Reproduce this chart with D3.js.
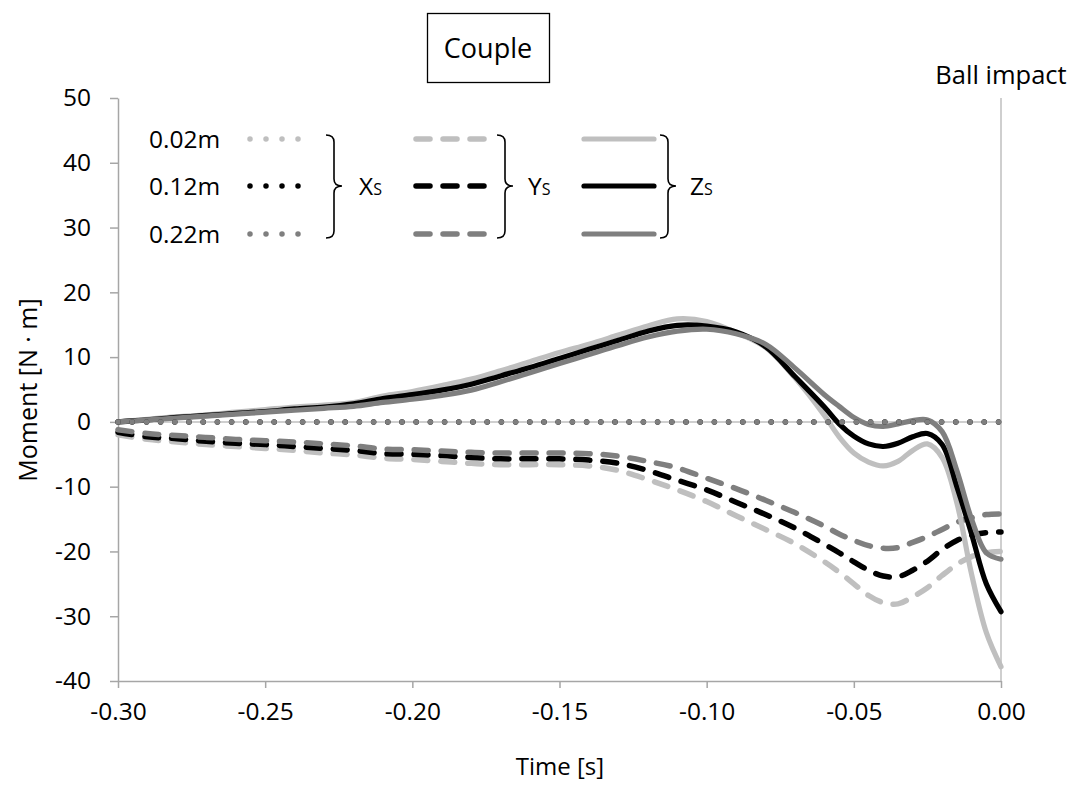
<!DOCTYPE html>
<html>
<head>
<meta charset="utf-8">
<script src="https://cdn.jsdelivr.net/npm/d3@7"></script>
<style>
  html, body { margin: 0; padding: 0; background: #fff; }
  svg { display: block; font-family: "Open Sans", sans-serif; }
</style>
</head>
<body>
<svg id="chart" width="1075" height="785"></svg>
<script>
// ---------------- DATA ----------------
const time = [-0.30,-0.29,-0.28,-0.27,-0.26,-0.25,-0.24,-0.23,-0.22,-0.21,-0.20,-0.19,-0.18,-0.17,-0.16,-0.15,-0.14,-0.13,-0.12,-0.11,-0.10,-0.09,-0.08,-0.07,-0.06,-0.055,-0.05,-0.045,-0.04,-0.035,-0.03,-0.025,-0.02,-0.015,-0.01,-0.005,0.00];

const xs002 = [0,0,0,0,0,0,0,0,0,0,0,0,0,0,0,0,0,0,0,0,0,0,0,0,0,0,0,0,0,0,0,0,0,0,0,0,0];
const xs012 = [0,0,0,0,0,0,0,0,0,0,0,0,0,0,0,0,0,0,0,0,0,0,0,0,0,0,0,0,0,0,0,0,0,0,0,0,0];
const xs022 = [0,0,0,0,0,0,0,0,0,0,0,0,0,0,0,0,0,0,0,0,0,0,0,0,0,0,0,0,0,0,0,0,0,0,0,0,0];

const ys002 = [-2.0,-2.7,-3.1,-3.5,-3.8,-4.1,-4.4,-4.8,-5.1,-5.6,-5.8,-6.1,-6.4,-6.6,-6.6,-6.6,-6.8,-7.5,-8.9,-10.5,-12.3,-14.5,-16.6,-18.8,-21.6,-23.2,-25.0,-26.8,-27.9,-28.1,-27.0,-25.6,-23.7,-22.0,-20.8,-20.2,-20.0];
const ys012 = [-1.6,-2.3,-2.6,-3.0,-3.3,-3.5,-3.8,-4.1,-4.4,-4.9,-5.0,-5.2,-5.5,-5.7,-5.7,-5.7,-5.9,-6.4,-7.5,-9.0,-10.5,-12.4,-14.3,-16.4,-18.9,-20.2,-21.6,-22.9,-23.8,-23.9,-22.9,-21.5,-19.7,-18.3,-17.5,-17.1,-17.0];
const ys022 = [-1.2,-1.8,-2.1,-2.4,-2.7,-2.9,-3.1,-3.4,-3.7,-4.2,-4.3,-4.5,-4.7,-4.8,-4.8,-4.8,-4.9,-5.3,-6.1,-7.1,-8.7,-10.3,-12.1,-14.0,-16.1,-17.3,-18.3,-19.1,-19.5,-19.4,-18.6,-17.7,-16.6,-15.5,-14.8,-14.3,-14.2];

const zs002 = [0.0,0.4,0.8,1.1,1.5,1.9,2.3,2.6,3.0,4.0,4.7,5.6,6.6,7.9,9.3,10.7,12.0,13.4,14.8,15.9,15.5,13.8,11.5,6.8,1.0,-2.3,-4.8,-6.2,-6.8,-6.1,-4.4,-3.4,-5.5,-12.5,-23.5,-32.5,-37.8];
const zs012 = [0.0,0.3,0.7,1.0,1.3,1.6,2.0,2.3,2.8,3.6,4.2,4.9,5.8,7.1,8.4,9.8,11.2,12.6,14.0,14.9,14.8,13.9,11.6,7.0,2.3,-0.3,-2.2,-3.4,-3.8,-3.3,-2.3,-1.8,-3.5,-10.0,-17.3,-25.0,-29.3];
const zs022 = [0.0,0.3,0.6,0.9,1.2,1.5,1.8,2.1,2.4,3.0,3.5,4.1,4.9,6.2,7.6,9.0,10.4,11.8,13.1,14.0,14.3,13.6,12.0,8.3,4.2,2.4,0.7,-0.4,-0.7,-0.3,0.2,0.3,-1.5,-7.5,-15.0,-20.2,-21.2];

const xTicks = [-0.30,-0.25,-0.20,-0.15,-0.10,-0.05,0.00];
const yTicks = [-40,-30,-20,-10,0,10,20,30,40,50];
const sizeLabels = ["0.02m","0.12m","0.22m"];
const axisNames = ["X","Y","Z"];
const titleText = "Couple";
const impactText = "Ball impact";
const xTitle = "Time [s]";
const yTitle = "Moment [N \u00B7 m]";

// ---------------- STYLES ----------------
const shades = ["#bfbfbf", "#000000", "#7f7f7f"];
const styles = {
  X: { dash: "0,14.2", width: 5.5 },
  Y: { dash: "14,13", width: 5.5 },
  Z: { dash: null, width: 5.2 }
};
const legendDash = { X: "0,16", Y: "14,13", Z: null };
const axisColor = "#a6a6a6";

// ---------------- SCALES ----------------
const svg = d3.select("#chart");
svg.append("rect").attr("width", 1075).attr("height", 785).attr("fill", "#fff");

const x = d3.scaleLinear().domain([-0.30, 0]).range([118, 1001]);
const y = d3.scaleLinear().domain([-40, 50]).range([681, 98]);

// ---------------- AXES ----------------
const fmtX = d => (Math.abs(d) < 1e-9 ? "0.00" : d.toFixed(2));
const xAxis = svg.append("g")
  .attr("transform", `translate(0,${y(-40)})`)
  .call(d3.axisBottom(x).tickValues(xTicks).tickFormat(fmtX).tickSize(7).tickSizeOuter(0).tickPadding(15));
const yAxis = svg.append("g")
  .attr("transform", `translate(${x(-0.30)},0)`)
  .call(d3.axisLeft(y).tickValues(yTicks).tickFormat(d => String(d)).tickSize(8).tickSizeOuter(0).tickPadding(19));

[xAxis, yAxis].forEach(g => {
  g.select(".domain").attr("stroke", axisColor).attr("stroke-width", 1.5);
  g.selectAll(".tick line").attr("stroke", axisColor).attr("stroke-width", 1.5);
  g.selectAll(".tick text").attr("fill", "#000").style("font-size", "24.5px").style("font-family", "'Open Sans', sans-serif");
});

// Ball impact vertical line
svg.append("line")
  .attr("x1", x(0)).attr("x2", x(0))
  .attr("y1", y(50)).attr("y2", y(-40))
  .attr("stroke", "#bfbfbf").attr("stroke-width", 1.5);

// thin zero line under dotted X series
svg.append("line")
  .attr("x1", x(-0.30)).attr("x2", x(0))
  .attr("y1", y(0)).attr("y2", y(0))
  .attr("stroke", "#bfbfbf").attr("stroke-width", 1.5);

// ---------------- SERIES ----------------
const line = d3.line()
  .x((d, i) => x(time[i]))
  .y(d => y(d))
  .curve(d3.curveCatmullRom.alpha(0.5));

const seriesGroups = [
  { axis: "Y", data: [ys002, ys012, ys022] },
  { axis: "Z", data: [zs002, zs012, zs022] },
  { axis: "X", data: [xs002, xs012, xs022] }
];

const plot = svg.append("g");
seriesGroups.forEach(grp => {
  grp.data.forEach((vals, k) => {
    const p = plot.append("path")
      .attr("d", line(vals))
      .attr("fill", "none")
      .attr("stroke", shades[k])
      .attr("stroke-width", styles[grp.axis].width)
      .attr("stroke-linecap", "round")
      .attr("stroke-linejoin", "round");
    if (styles[grp.axis].dash) p.attr("stroke-dasharray", styles[grp.axis].dash);
  });
});

// ---------------- LEGEND ----------------
const rows = [139, 186, 234];
const legendCols = [
  { axis: "X", x0: 250, x1: 314, brace: 326, bw: 16, label: 359 },
  { axis: "Y", x0: 416, x1: 484, brace: 497, bw: 16, label: 528 },
  { axis: "Z", x0: 584, x1: 654, brace: 660, bw: 16, label: 690 }
];
const lg = svg.append("g");

sizeLabels.forEach((s, i) => {
  lg.append("text").attr("x", 149).attr("y", rows[i] + 9)
    .style("font-size", "24.5px").text(s);
});

function bracePath(x0, yTop, yMid, yBot, w) {
  const xm = x0 + w * 0.5, r = 7;
  return `M${x0},${yTop} Q${xm},${yTop} ${xm},${yTop + r} L${xm},${yMid - r} Q${xm},${yMid} ${x0 + w},${yMid}` +
         ` Q${xm},${yMid} ${xm},${yMid + r} L${xm},${yBot - r} Q${xm},${yBot} ${x0},${yBot}`;
}

legendCols.forEach((c, ci) => {
  shades.forEach((col, k) => {
    const l = lg.append("line")
      .attr("x1", c.x0).attr("x2", c.x1)
      .attr("y1", rows[k]).attr("y2", rows[k])
      .attr("stroke", col)
      .attr("stroke-width", styles[c.axis].width)
      .attr("stroke-linecap", "round");
    if (legendDash[c.axis]) l.attr("stroke-dasharray", legendDash[c.axis]);
  });
  lg.append("path")
    .attr("d", bracePath(c.brace, rows[0] - 4, rows[1], rows[2] + 4, c.bw))
    .attr("fill", "none").attr("stroke", "#000").attr("stroke-width", 1.6);
  const t = lg.append("text").attr("x", c.label).attr("y", rows[1] + 9).style("font-size", "24.5px");
  t.append("tspan").text(axisNames[ci]);
  t.append("tspan").style("font-size", "16px").text("S");
});

// ---------------- TITLES ----------------
svg.append("rect").attr("x", 427.5).attr("y", 13.5).attr("width", 122).attr("height", 69)
  .attr("fill", "#fff").attr("stroke", "#000").attr("stroke-width", 1.3);
svg.append("text").attr("x", 488).attr("y", 58).attr("text-anchor", "middle")
  .style("font-size", "27px").text(titleText);

svg.append("text").attr("x", 1001).attr("y", 84).attr("text-anchor", "middle")
  .style("font-size", "25.5px").text(impactText);

svg.append("text").attr("x", 560).attr("y", 775).attr("text-anchor", "middle")
  .style("font-size", "24px").text(xTitle);

svg.append("text").attr("transform", "translate(37,390) rotate(-90)").attr("text-anchor", "middle")
  .style("font-size", "25px").text(yTitle);
</script>
</body>
</html>
